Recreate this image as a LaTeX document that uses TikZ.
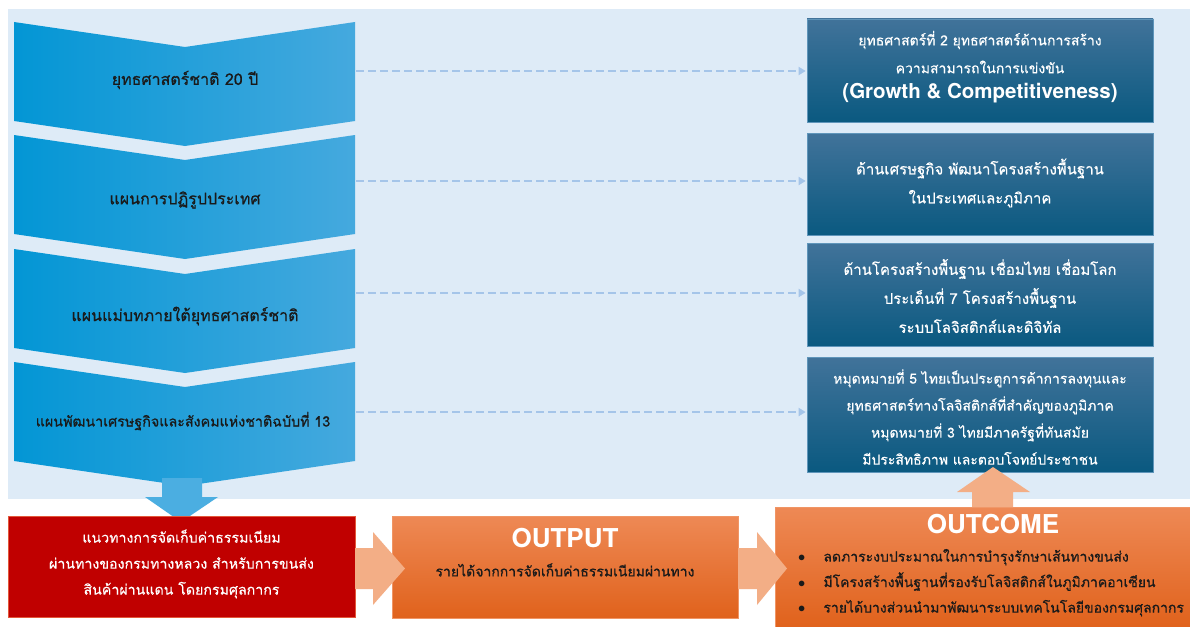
\documentclass[tikz,border=0pt]{standalone}
\usepackage{fontspec}
\setmainfont[Script=Thai,FakeBold=0.35]{Loma}
\newfontfamily\thaiheavy[Script=Thai,FakeBold=0.7]{Loma}
\newfontfamily\latsans{TeX Gyre Heros}
\usetikzlibrary{arrows.meta}
\definecolor{panel}{HTML}{DEEBF7}
\definecolor{chevL}{HTML}{0396D5}
\definecolor{chevR}{HTML}{45A9DE}
\definecolor{downarr}{HTML}{4BAEE1}
\definecolor{boxTop}{HTML}{41739A}
\definecolor{boxBot}{HTML}{0A5980}
\definecolor{boxBorder}{HTML}{5F95BA}
\definecolor{dashc}{HTML}{A5C5E9}
\definecolor{redbox}{HTML}{C00000}
\definecolor{redborder}{HTML}{E3573A}
\definecolor{orTop}{HTML}{EE8955}
\definecolor{orBot}{HTML}{E0621C}
\definecolor{orBorder}{HTML}{F09565}
\definecolor{arrowor}{HTML}{F3AE86}
\definecolor{txtdark}{HTML}{1A1A1A}
\newcommand\chevshape[1]{%
  \shade[left color=chevL,right color=chevR]
    (14,#1) -- (185,#1+25) -- (355,#1) -- (355,#1+99) -- (185,#1+124) -- (14,#1+99) -- cycle;}
\tikzset{
  chevtext/.style={text=txtdark, font=\thaiheavy\fontsize{16}{18}\selectfont, inner sep=0pt},
  rbox/.style={draw=boxBorder, line width=0.7pt, top color=boxTop, bottom color=boxBot,
    minimum width=346pt, inner sep=0pt},
  wtext/.style={text=white, align=center, font=\fontsize{14}{27}\selectfont},
  dasharrow/.style={draw=dashc, line width=2.2pt, dash pattern=on 8pt off 4pt,
    -{Triangle[length=7pt,width=8pt]}, shorten >=1pt},
  orbox/.style={draw=orBorder, line width=0.7pt, top color=orTop, bottom color=orBot, inner sep=0pt},
  headtext/.style={text=white, font=\latsans\bfseries\fontsize{26}{30}\selectfont},
  blockarrow/.style={fill=arrowor, draw=none},
}
\begin{document}
\begin{tikzpicture}[x=1pt,y=-1pt]
\useasboundingbox (0,0) rectangle (1190,626);
\fill[white] (0,0) rectangle (1190,626);
% panel
\fill[panel] (8,9) rectangle (1190,499);
% chevrons
\chevshape{22}
\chevshape{135}
\chevshape{249}
\chevshape{362}
\node[chevtext] (ch1) at (185,80) {ยุทธศาสตร์ชาติ 20 ปี};
\node[chevtext] (ch2) at (185,200) {แผนการปฏิรูปประเทศ};
\node[chevtext] (ch3) at (185,316) {แผนแม่บทภายใต้ยุทธศาสตร์ชาติ};
\node[chevtext, font=\thaiheavy\fontsize{14.3}{18}\selectfont] (ch4) at (183,421) {แผนพัฒนาเศรษฐกิจและสังคมแห่งชาติฉบับที่ 13};
\coordinate (c1e) at (356,71);
\coordinate (c2e) at (356,181);
\coordinate (c3e) at (356,293);
\coordinate (c4e) at (356,412);
% down arrow
\fill[downarr] (162,478) -- (202,478) -- (202,497) -- (218,497) -- (181,522) -- (145,497) -- (162,497) -- cycle;
% right boxes
\node[rbox, minimum height=103pt] (r1) at (980,70.5) {};
\node[rbox, minimum height=102pt] (r2) at (980,184) {};
\node[rbox, minimum height=103pt] (r3) at (980,294.5) {};
\node[rbox, minimum height=115pt] (r4) at (980,414.5) {};
\node[wtext] (r1a) at (980,40) {ยุทธศาสตร์ที่ 2 ยุทธศาสตร์ด้านการสร้าง};
\node[wtext] (r1b) at (980,67) {ความสามารถในการแข่งขัน};
\node[text=white, font=\latsans\bfseries\fontsize{20.5}{22}\selectfont] (r1c) at (980,93) {(Growth \& Competitiveness)};
\node[wtext, font=\fontsize{15}{29}\selectfont] (r2t) at (980,183) {ด้านเศรษฐกิจ พัฒนาโครงสร้างพื้นฐาน\\ในประเทศและภูมิภาค};
\node[wtext, font=\fontsize{15}{29}\selectfont] (r3t) at (980,296) {ด้านโครงสร้างพื้นฐาน เชื่อมไทย เชื่อมโลก\\ประเด็นที่ 7 โครงสร้างพื้นฐาน\\ระบบโลจิสติกส์และดิจิทัล};
\node[wtext] (r4t) at (980,417) {หมุดหมายที่ 5 ไทยเป็นประตูการค้าการลงทุนและ\\ยุทธศาสตร์ทางโลจิสติกส์ที่สำคัญของภูมิภาค\\หมุดหมายที่ 3 ไทยมีภาครัฐที่ทันสมัย\\มีประสิทธิภาพ และตอบโจทย์ประชาชน};
% dashed connectors
\draw[dasharrow] (c1e) -- (c1e -| r1.west);
\draw[dasharrow] (c2e) -- (c2e -| r2.west);
\draw[dasharrow] (c3e) -- (c3e -| r3.west);
\draw[dasharrow] (c4e) -- (c4e -| r4.west);
% bottom row
\node[draw=redborder, line width=0.7pt, fill=redbox, minimum width=347pt, minimum height=101pt, inner sep=0pt] (red) at (181.5,566.5) {};
\node[wtext, font=\fontsize{14.2}{26}\selectfont] (redt) at (181.5,564) {แนวทางการจัดเก็บค่าธรรมเนียม\\ผ่านทางของกรมทางหลวง สำหรับการขนส่ง\\สินค้าผ่านแดน โดยกรมศุลกากร};
\node[orbox, minimum width=346pt, minimum height=102pt] (out) at (565,567) {};
\node[headtext] (outh) at (565,538) {OUTPUT};
\node[text=txtdark, font=\thaiheavy\fontsize{14}{18}\selectfont] (outt) at (565,570) {รายได้จากการจัดเก็บค่าธรรมเนียมผ่านทาง};
\node[orbox, minimum width=416pt, minimum height=120pt, anchor=north west] (oc) at (775,507) {};
\node[headtext] (och) at (993,524) {OUTCOME};
\node[text=txtdark, anchor=west, inner sep=0pt, font=\thaiheavy\fontsize{14}{25.5}\selectfont] (oct) at (798,582)
  {\begin{tabular}{@{}l@{\hspace{18pt}}l@{}}
   $\bullet$ & ลดภาระงบประมาณในการบำรุงรักษาเส้นทางขนส่ง\\
   $\bullet$ & มีโครงสร้างพื้นฐานที่รองรับโลจิสติกส์ในภูมิภาคอาเซียน\\
   $\bullet$ & รายได้บางส่วนนำมาพัฒนาระบบเทคโนโลยีของกรมศุลกากร
   \end{tabular}};
% block arrows
\fill[blockarrow] (355,548) -- (373,548) -- (373,532) -- (405,568.5) -- (373,605) -- (373,589) -- (355,589) -- cycle;
\fill[blockarrow] (738,548) -- (757,548) -- (757,532) -- (787,568.5) -- (757,605) -- (757,589) -- (738,589) -- cycle;
\fill[blockarrow] (972,507) -- (972,492) -- (957,492) -- (993,467) -- (1030,492) -- (1013,492) -- (1013,507) -- cycle;
\end{tikzpicture}
\end{document}
